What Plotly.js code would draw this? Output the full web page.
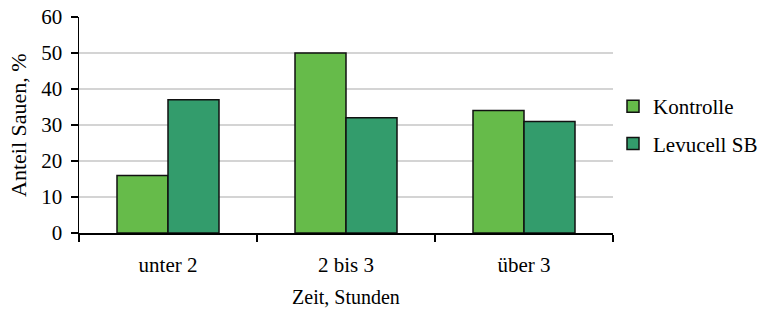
<!DOCTYPE html>
<html><head><meta charset="utf-8">
<script src="https://cdn.plot.ly/plotly-3.0.1.min.js"></script>
<style>html,body{margin:0;padding:0;background:#fff}#chart{width:763px;height:316px}</style>
</head><body><div id="chart"></div>
<script>
const categories = ["unter 2", "2 bis 3", "über 3"];
const kontrolle = [16, 50, 34];
const levucell = [37, 32, 31];
const seriesNames = ["Kontrolle", "Levucell SB"];
const yTicks = [0, 10, 20, 30, 40, 50, 60];
const yTitle = "Anteil Sauen, %";
const xTitle = "Zeit, Stunden";

const fam = "Liberation Serif";
const f = (s) => ({family: fam, size: s, color: "#000"});
const data = [
  {type: "bar", name: seriesNames[0], x: categories, y: kontrolle, legendgroup: "a",
   marker: {color: "#66bb4a", line: {color: "#111", width: 1.5}}},
  {type: "bar", name: seriesNames[1], x: categories, y: levucell, legendgroup: "b",
   marker: {color: "#339c6c", line: {color: "#111", width: 1.5}}}
];
const layout = {
  width: 763, height: 316,
  margin: {l: 79, r: 150, t: 17, b: 83, autoexpand: false},
  paper_bgcolor: "#fff", plot_bgcolor: "#fff",
  font: f(21),
  barmode: "group", bargap: 0.427, bargroupgap: 0,
  showlegend: true,
  legend: {x: 1.0, y: 0.5, xanchor: "left", yanchor: "middle", traceorder: "grouped",
           font: f(21), tracegroupgap: 7, itemwidth: 30},
  xaxis: {
    showline: true, linecolor: "#000", linewidth: 1.5,
    ticks: "outside", tickson: "boundaries", ticklen: 7, tickcolor: "#000", tickwidth: 1.5,
    tickfont: f(21), ticklabelstandoff: 12,
    title: {text: xTitle, font: f(20), standoff: 14}
  },
  yaxis: {
    range: [0, 60], tickvals: yTicks, showline: true, linecolor: "#000", linewidth: 1.5,
    ticks: "outside", ticklen: 7, tickcolor: "#000", tickwidth: 1.5,
    showgrid: true, gridcolor: "#d4d4d4", gridwidth: 1.5, zeroline: false,
    tickfont: f(21), ticklabelstandoff: 4
  },
  annotations: [{
    text: yTitle, textangle: -90, showarrow: false, font: f(22),
    xref: "paper", yref: "paper", x: -61 / 534, y: 0.5, xanchor: "center", yanchor: "middle"
  }]
};
Plotly.newPlot("chart", data, layout, {displayModeBar: false, staticPlot: true});
</script></body></html>
